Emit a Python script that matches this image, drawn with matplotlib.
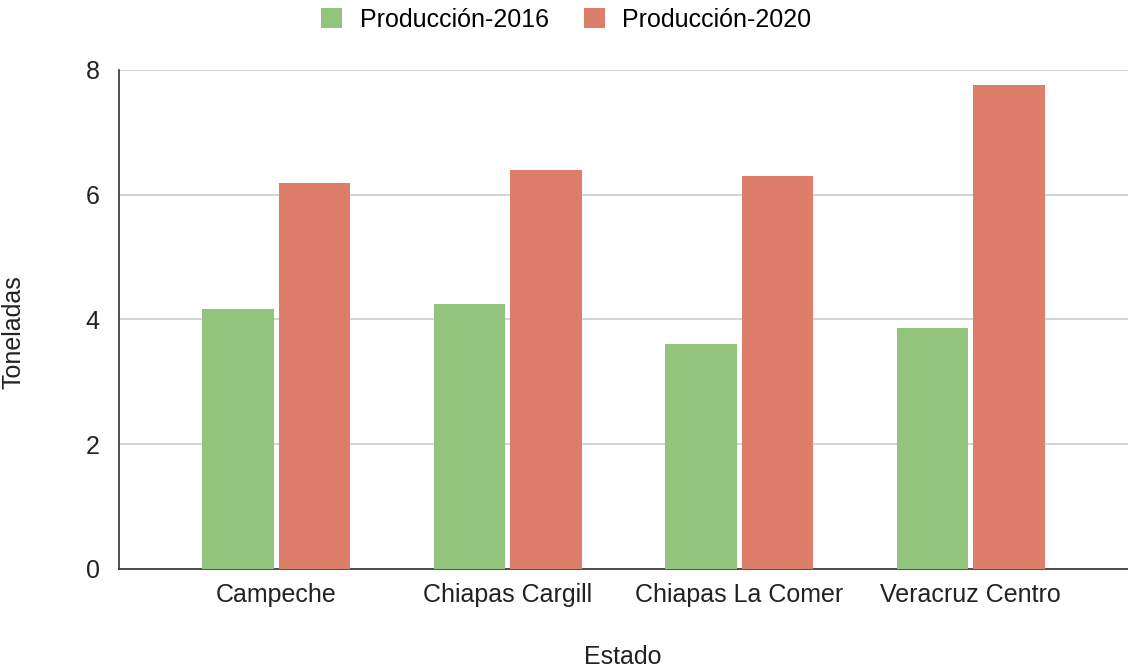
import matplotlib
matplotlib.use('Agg')
import matplotlib.pyplot as plt
import numpy as np

plt.rcParams['font.family'] = ['Liberation Sans', 'DejaVu Sans']

estados = ['Campeche', 'Chiapas Cargill', 'Chiapas La Comer', 'Veracruz Centro']
prod_2016 = [4.16, 4.25, 3.61, 3.87]
prod_2020 = [6.18, 6.40, 6.30, 7.76]

fig = plt.figure(figsize=(11.28, 6.69), dpi=100)
ax = fig.add_axes([0.1055, 0.1495, 0.8945, 0.746])

x = np.arange(len(estados))
w = 0.31
off = 0.165
ax.bar(x - off, prod_2016, w, color='#93c47d', label='Producción-2016', zorder=3)
ax.bar(x + off, prod_2020, w, color='#dd7e6b', label='Producción-2020', zorder=3)

ax.set_xlim(-0.68, 3.68)
ax.set_ylim(0, 8)
ax.set_yticks([0, 2, 4, 6, 8])
ax.grid(axis='y', color='#cccccc', linewidth=1.2, zorder=0)
ax.set_xticks(x)
ax.set_xticklabels(estados)
ax.tick_params(length=0, labelsize=18, colors='#222222', pad=10)
ax.tick_params(axis='y', pad=14)
for s in ['top', 'right']:
    ax.spines[s].set_visible(False)
for s in ['left', 'bottom']:
    ax.spines[s].set_color('#333333')
    ax.spines[s].set_linewidth(1.2)

fig.text(0.5523, 1 - 657 / 669, 'Estado', fontsize=18, color='#222222',
         ha='center', va='center')
fig.text(14 / 1128, 1 - 332 / 669, 'Toneladas', fontsize=18, color='#222222',
         ha='center', va='center', rotation=90)

fig.legend(loc='center', bbox_to_anchor=(0.502, 1 - 20 / 669), ncol=2, frameon=False,
           fontsize=18, handlelength=0.85, handleheight=0.85, handletextpad=0.7,
           columnspacing=1.4)

plt.savefig('out.png', dpi=100)
plt.close()
